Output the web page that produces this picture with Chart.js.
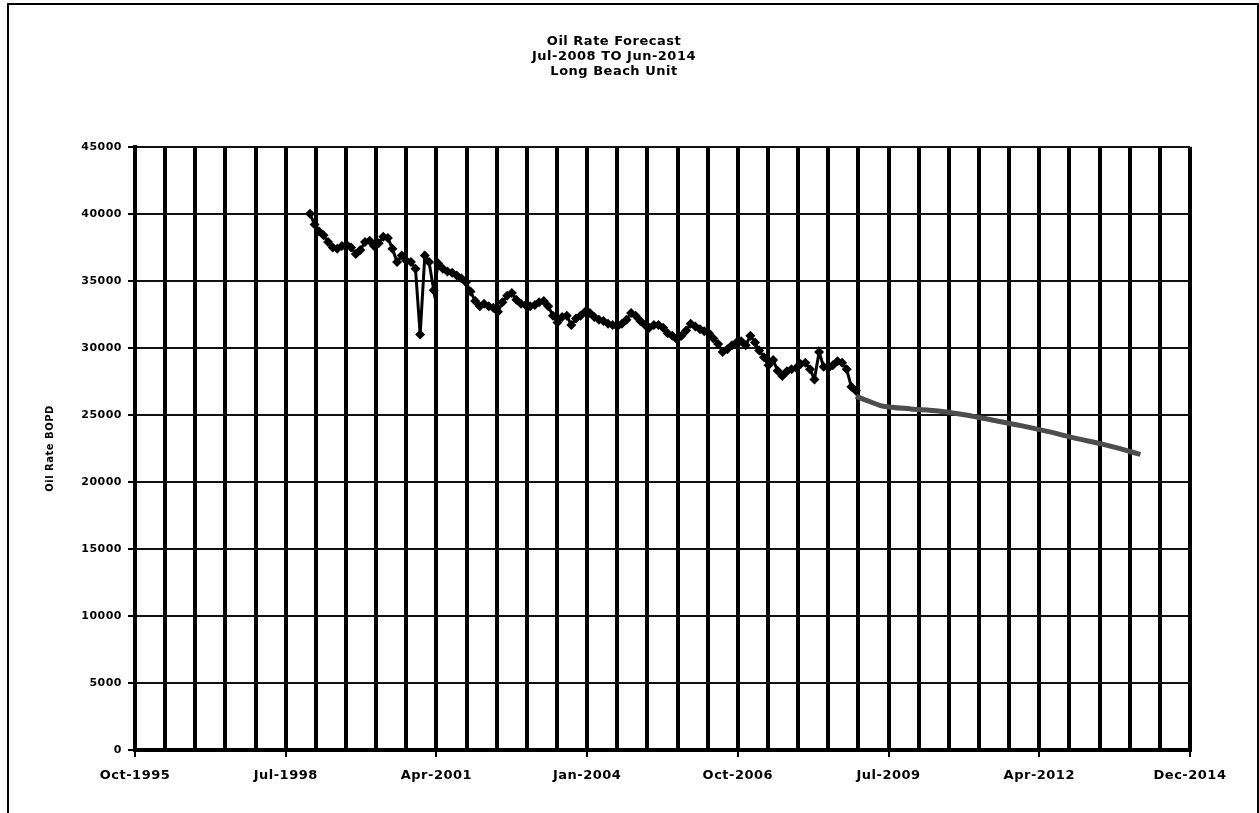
<!DOCTYPE html>
<html>
<head>
<meta charset="utf-8">
<script src="https://cdn.jsdelivr.net/npm/chart.js@4.4.0/dist/chart.umd.min.js"></script>
<style>
  html, body { margin: 0; padding: 0; background: #fff; overflow: hidden; }
  #wrap { position: relative; width: 1259px; height: 813px; }
  #frame { position: absolute; left: 7px; top: 3px; width: 1248px; height: 830px;
           border: 2px solid #000; border-bottom: none; pointer-events: none; }
</style>
</head>
<body>
<div id="wrap">
  <canvas id="oilChart" width="1259" height="813"></canvas>
  <div id="frame"></div>
</div>
<script>
// x axis is in spreadsheet day numbers (days since 30-Dec-1899)
const xMin = 35000;
const xMax = 42000;
const xMinorStep = 200;
const xMajorStep = 1000;
const yMax = 45000;
const yStep = 5000;

const titleLines = ['Oil Rate Forecast', 'Jul-2008 TO Jun-2014', 'Long Beach Unit'];
const yTitle = 'Oil Rate BOPD';

// monthly history, first month Jan-1999
const histStartYear = 1999;
const histStartMonth = 1;
const histValues = [
  40000, 39200, 38700, 38400, 37900, 37500, 37400, 37600, 37700, 37500, 37000, 37300,
  37900, 38000, 37600, 37800, 38300, 38200, 37400, 36400, 36900, 36500, 36400, 35900,
  31000, 36900, 36400, 34300, 36300, 35900, 35700, 35600, 35400, 35200, 34900, 34200,
  33500, 33100, 33300, 33100, 33000, 32700, 33400, 33900, 34100, 33600, 33300, 33200,
  33100, 33200, 33400, 33500, 33100, 32400, 31900, 32300, 32400, 31700, 32200, 32400,
  32700, 32600, 32300, 32100, 32000, 31800, 31700, 31600, 31800, 32100, 32600, 32400,
  32000, 31700, 31500, 31700, 31700, 31500, 31100, 30900, 30650, 30900, 31300, 31800,
  31600, 31400, 31250, 31100, 30700, 30300, 29700, 29900, 30200, 30400, 30500, 30200,
  30900, 30400, 29800, 29300, 28700, 29100, 28300, 27900, 28250, 28400, 28500, 28800,
  28900, 28400, 27650, 29700, 28600, 28500, 28700, 29000, 28900, 28400, 27100, 26800
];

// forecast
const forecastDates = [
  '2008-12', '2009-03', '2009-06', '2009-12', '2010-06', '2010-12', '2011-06',
  '2011-12', '2012-06', '2012-12', '2013-06', '2013-12', '2014-02'
];
const forecastValues = [
  26400, 26000, 25650, 25450, 25300, 25000, 24600,
  24200, 23750, 23250, 22800, 22250, 22050
];

const DAY0 = Date.UTC(1899, 11, 30);
const MONTHS = ['Jan', 'Feb', 'Mar', 'Apr', 'May', 'Jun', 'Jul', 'Aug', 'Sep', 'Oct', 'Nov', 'Dec'];

function serial(year, month) {
  return (Date.UTC(year, month - 1, 1) - DAY0) / 86400000;
}

function fmtDay(s) {
  const d = new Date(DAY0 + s * 86400000);
  return MONTHS[d.getUTCMonth()] + '-' + d.getUTCFullYear();
}

const histPoints = histValues.map((v, i) => ({ x: serial(histStartYear, histStartMonth + i), y: v }));
const forecastPoints = forecastDates.map((d, i) => {
  const p = d.split('-');
  return { x: serial(+p[0], +p[1]), y: forecastValues[i] };
});

const isMajor = v => (v - xMin) % xMajorStep === 0;

// slightly spread lettering like the original
const spacing = {
  id: 'spacing',
  beforeLayout(chart) { chart.ctx.letterSpacing = '0.5px'; },
  beforeDraw(chart) { chart.ctx.letterSpacing = '0.5px'; }
};

Chart.defaults.font.family = '"DejaVu Sans", sans-serif';
Chart.defaults.font.weight = 'bold';
Chart.defaults.color = '#000';

new Chart(document.getElementById('oilChart').getContext('2d'), {
  type: 'line',
  data: {
    datasets: [{
      label: 'History',
      data: histPoints,
      borderColor: '#000',
      backgroundColor: '#000',
      borderWidth: 3,
      pointStyle: 'rectRot',
      pointRadius: 5,
      pointBorderWidth: 0,
      tension: 0
    }, {
      label: 'Forecast',
      data: forecastPoints,
      borderColor: '#4d4d4d',
      backgroundColor: '#4d4d4d',
      borderWidth: 5,
      pointRadius: 0,
      tension: 0.3
    }]
  },
  options: {
    responsive: false,
    animation: false,
    devicePixelRatio: 1,
    layout: { padding: { top: 10, left: 38, right: 69, bottom: 0 } },
    plugins: {
      legend: { display: false },
      tooltip: { enabled: false },
      title: {
        display: true,
        text: titleLines,
        font: { size: 13, weight: 'bold', lineHeight: 1.15 },
        padding: { top: 24, bottom: 68 }
      }
    },
    scales: {
      x: {
        type: 'linear',
        min: xMin,
        max: xMax,
        afterFit(scale) { scale.height = 63; },
        border: { color: '#000', width: 4 },
        grid: {
          color: '#000',
          lineWidth: 4,
          tickLength: 7,
          tickWidth: 2,
          tickColor: ctx => (ctx.tick && isMajor(ctx.tick.value)) ? '#000' : 'rgba(0,0,0,0)'
        },
        ticks: {
          stepSize: xMinorStep,
          autoSkip: false,
          maxRotation: 0,
          padding: 11,
          font: { size: 13 },
          callback: v => isMajor(v) ? fmtDay(v) : ''
        }
      },
      y: {
        min: 0,
        max: yMax,
        afterFit(scale) { scale.width = 97; },
        border: { color: '#000', width: 4 },
        grid: { color: '#111', lineWidth: 2, tickLength: 7, tickWidth: 2, tickColor: '#000' },
        ticks: {
          stepSize: yStep,
          padding: 6,
          font: { size: 11 },
          callback: v => String(v)
        },
        title: {
          display: true,
          text: yTitle,
          font: { size: 10, weight: 'bold' },
          padding: { top: 6, bottom: 0 }
        }
      }
    }
  },
  plugins: [spacing]
});
</script>
</body>
</html>
